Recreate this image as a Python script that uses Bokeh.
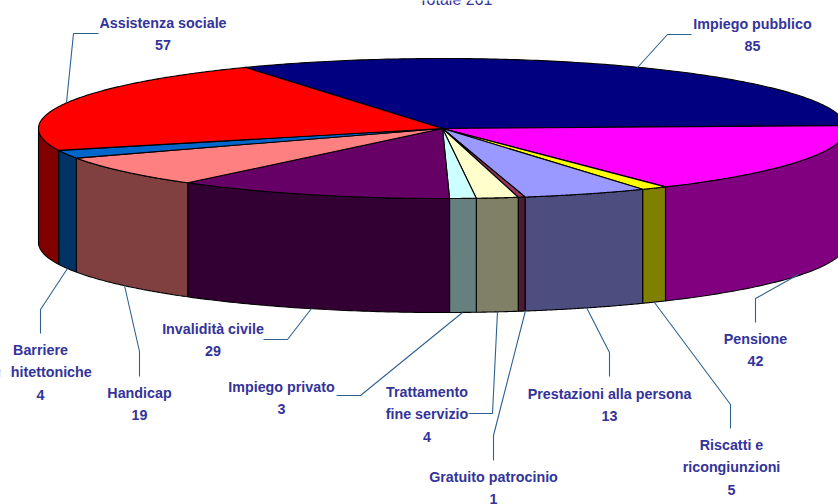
import numpy as np
from bokeh.plotting import figure
from bokeh.models import Range1d
from bokeh.core.properties import value
from bokeh.embed import file_html
from bokeh.resources import INLINE

# Data, clockwise from the top
categories = ["Impiego pubblico", "Pensione", "Riscatti e\nricongiunzioni", "Prestazioni alla persona",
              "Gratuito patrocinio", "Trattamento\nfine servizio", "Impiego privato", "Invalidità civile",
              "Handicap", "Barriere\narchitettoniche", "Assistenza sociale"]
counts = [85, 42, 5, 13, 1, 4, 3, 29, 19, 4, 57]
# Sweep of each slice in degrees (the drawn slices are
# not strictly proportional to the printed counts)
sweep_deg = [116.8, 58.9, 3.8, 17.9, 1.0, 6.0, 3.8, 40.1, 25.9, 6.8, 79.0]
top_colors = ["#000080", "#FF00FF", "#FFFF00", "#9999FF", "#993366", "#FFFFCC", "#CCFFFF",
              "#660066", "#FF8080", "#0066CC", "#FF0000"]
side_colors = ["#000040", "#800080", "#808000", "#4D4D80", "#4D1A33", "#808066", "#668080",
               "#330033", "#804040", "#003366", "#800000"]
title_text = "Totale 261"

# Layout (page pixels)
W, H = 838, 504
CX, CY, RX, RY, DEPTH = 442, 128, 404, 70, 114
START_DEG = 119.2
# label centre x, first-line centre y
label_pos = [(752, 23), (755, 338), (731, 444), (609, 393), (493, 476), (426.5, 391),
             (281, 386), (212.5, 328), (139, 392), (40, 349), (162.5, 22)]
LINE_H = 22.7
leaders = [[(637, 67), (667, 34), (691, 34)],
           [(798, 274), (755, 298), (755, 322)],
           [(654, 302), (730, 404), (730, 428)],
           [(586, 307), (609, 352), (609, 376)],
           [(525, 310), (493, 435), (493, 460)],
           [(497, 311), (492, 413), (468, 413)],
           [(462, 312), (360, 395), (336, 395)],
           [(311, 308), (287, 339), (263, 339)],
           [(124, 285), (139, 351), (139, 376)],
           [(67, 268), (40, 309), (40, 333)],
           [(66, 102), (73, 33), (98, 33)]]

p = figure(width=W, height=H, x_range=Range1d(0, W), y_range=Range1d(H, 0),
           output_backend="svg", toolbar_location=None, min_border=0,
           background_fill_color="white", border_fill_color="white")
p.axis.visible = False
p.grid.visible = False
p.outline_line_color = None


def ell(deg):
    t = np.radians(deg)
    return CX + RX * np.cos(t), CY - RY * np.sin(t)


edges = START_DEG - np.concatenate([[0], np.cumsum(sweep_deg)])

# Walls: only the near half of the rim is visible
wx, wy, wc = [], [], []
for i in range(len(counts)):
    hi, lo = min(edges[i], 0), max(edges[i + 1], -180)
    if hi <= lo:
        continue
    t = np.linspace(hi, lo, 60)
    x, y = ell(t)
    wx.append(np.concatenate([x, x[::-1]]))
    wy.append(np.concatenate([y, y[::-1] + DEPTH]))
    wc.append(side_colors[i])
p.patches(wx, wy, fill_color=wc, line_color="black", line_width=1.1)

# Top faces
tx, ty = [], []
for i in range(len(counts)):
    t = np.linspace(edges[i], edges[i + 1], 160)
    x, y = ell(t)
    tx.append(np.concatenate([[CX], x]))
    ty.append(np.concatenate([[CY], y]))
p.patches(tx, ty, fill_color=top_colors, line_color="black", line_width=1.1)

# Leader lines
p.multi_line([[q[0] for q in l] for l in leaders], [[q[1] for q in l] for l in leaders],
             line_color="#2F6190", line_width=1.1)

# Labels
lx, ly, lt = [], [], []
for (x, y), name, n in zip(label_pos, categories, counts):
    for k, s in enumerate(name.split("\n") + [str(n)]):
        lx.append(x)
        ly.append(y + k * LINE_H)
        lt.append(s)
p.text(lx, ly, text=lt, text_font=value("Liberation Sans"), text_font_style="bold",
       text_font_size="14.3px", text_color="#333399", text_align="center", text_baseline="middle")
p.text([455], [7], text=[title_text], text_font=value("Liberation Sans"),
       text_font_size="16px", text_color="#333399", text_align="center", text_baseline="bottom")

# The source picture is cropped on its left side
p.quad(left=[-30], right=[10], top=[340], bottom=[400], fill_color="white", line_color=None)

open("out.html", "w").write(file_html(p, INLINE))
